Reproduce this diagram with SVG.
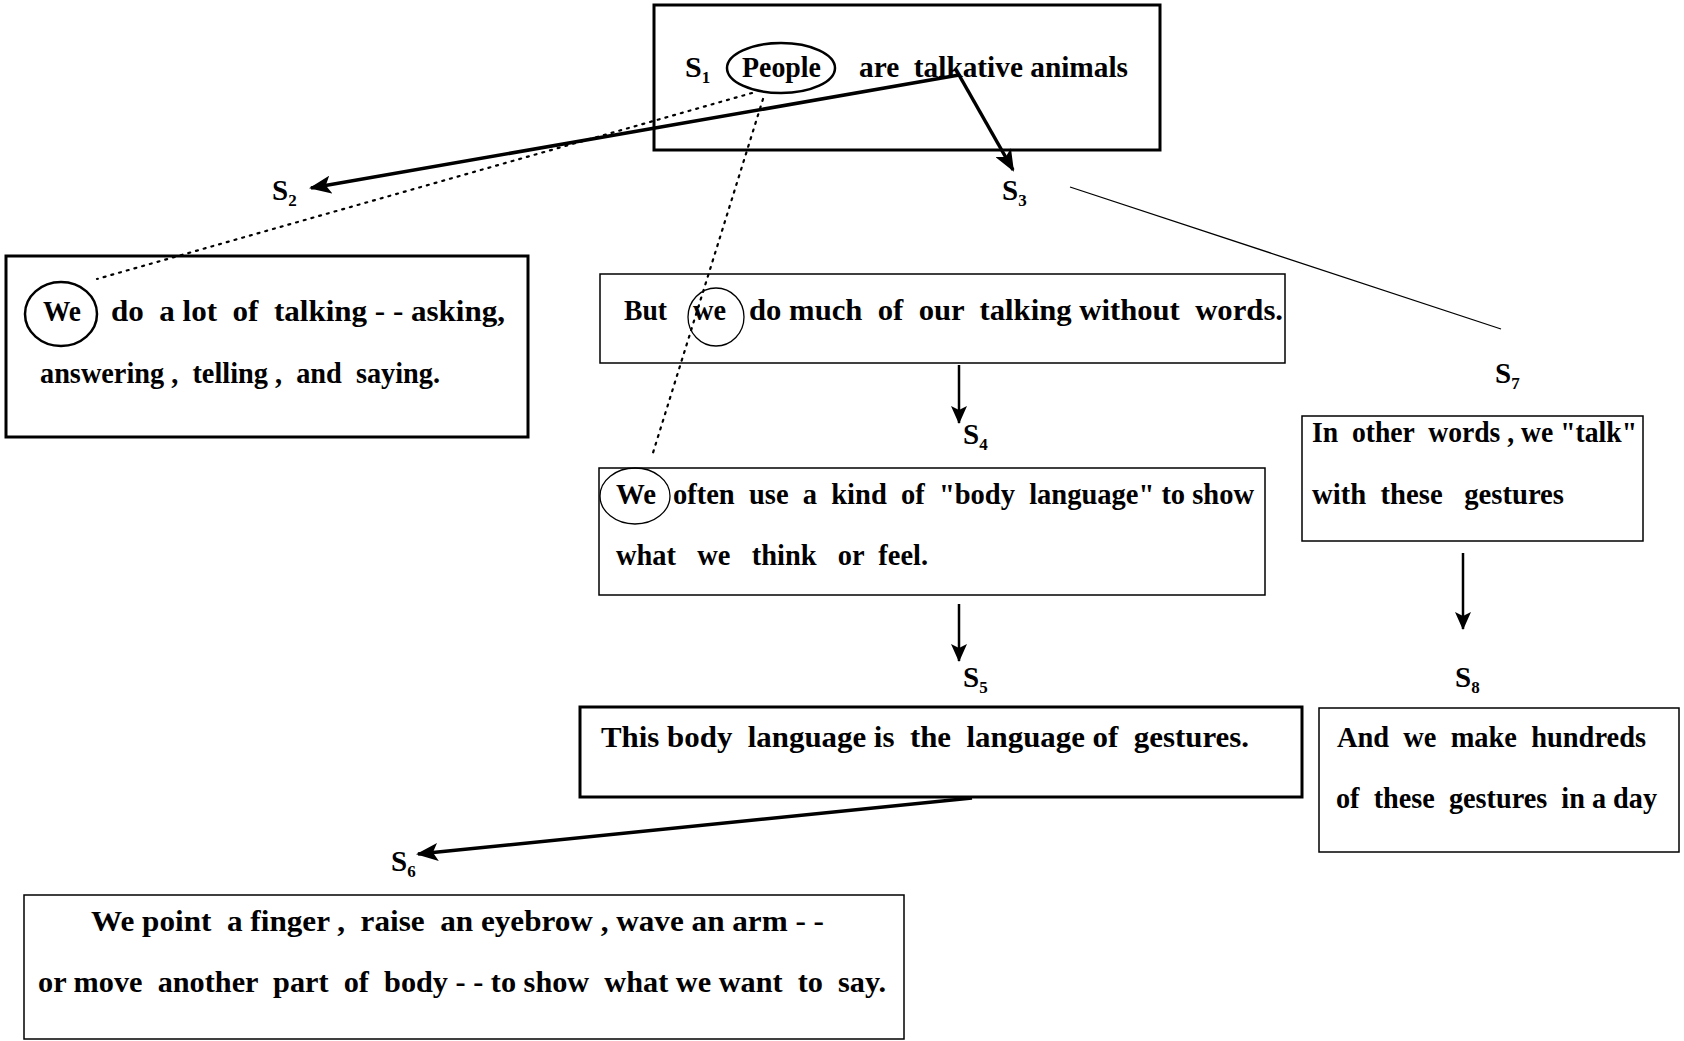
<svg xmlns="http://www.w3.org/2000/svg" width="1684" height="1041" viewBox="0 0 1684 1041">
<defs>
<style>
.t{font-family:"Liberation Serif","Times New Roman",serif;font-weight:bold;font-size:30px;fill:#000;white-space:pre}
.lab{font-family:"Liberation Serif","Times New Roman",serif;font-weight:bold;font-size:29px;fill:#000}
.sub{font-size:17px}
.box{fill:#fff;stroke:#000;stroke-width:1.5}
.boxb{fill:#fff;stroke:#000;stroke-width:3}
.ring{fill:none;stroke:#000;stroke-width:2.5}
.ringt{fill:none;stroke:#000;stroke-width:1.3}
.arr{fill:none;stroke:#000;stroke-width:3.5;marker-end:url(#ah)}
.arrt{fill:none;stroke:#000;stroke-width:2.5;marker-end:url(#ah2)}
.dot{fill:none;stroke:#000;stroke-width:2.2;stroke-dasharray:2 6;stroke-linecap:round}
.thin{fill:none;stroke:#000;stroke-width:1.3}
</style>
<marker id="ah" markerUnits="userSpaceOnUse" markerWidth="22" markerHeight="18" refX="20" refY="9" orient="auto">
<path d="M0,0 L22,9 L0,18 L5,9 Z" fill="#000"/>
</marker>
<marker id="ah2" markerUnits="userSpaceOnUse" markerWidth="18" markerHeight="16" refX="17" refY="8" orient="auto">
<path d="M0,0 L18,8 L0,16 L4,8 Z" fill="#000"/>
</marker>
</defs>

<g id="s1">
<rect class="boxb" x="654" y="5" width="506" height="145"/>
<text class="t" x="685" y="77">S<tspan class="sub" dy="6">1</tspan></text>
<ellipse class="ring" cx="781" cy="68" rx="54" ry="25"/>
<text class="t" x="742" y="77" textLength="79" lengthAdjust="spacingAndGlyphs">People</text>
<text class="t" x="859" y="77" textLength="269" lengthAdjust="spacingAndGlyphs">are  talkative animals</text>
</g>

<g id="s2">
<rect class="boxb" x="6" y="256" width="522" height="181"/>
<ellipse class="ring" cx="61" cy="314" rx="36" ry="32"/>
<text class="t" x="43" y="321" textLength="38" lengthAdjust="spacingAndGlyphs">We</text>
<text class="t" x="111" y="321" textLength="394" lengthAdjust="spacingAndGlyphs">do  a lot  of  talking - - asking,</text>
<text class="t" x="40" y="383" textLength="400" lengthAdjust="spacingAndGlyphs">answering ,  telling ,  and  saying.</text>
</g>

<g id="s3">
<rect class="box" x="600" y="274" width="685" height="89"/>
<text class="t" x="624" y="320" textLength="43" lengthAdjust="spacingAndGlyphs">But</text>
<text class="t" x="693" y="320" textLength="33" lengthAdjust="spacingAndGlyphs">we</text>
<text class="t" x="749" y="320" textLength="534" lengthAdjust="spacingAndGlyphs">do much  of  our  talking without  words.</text>
<ellipse class="ringt" cx="716" cy="317" rx="28" ry="29"/>
</g>

<g id="s4">
<rect class="box" x="599" y="468" width="666" height="127"/>
<ellipse class="ringt" cx="635" cy="496" rx="35" ry="28"/>
<text class="t" x="616" y="504" textLength="40" lengthAdjust="spacingAndGlyphs">We</text>
<text class="t" x="673" y="504" textLength="581" lengthAdjust="spacingAndGlyphs">often  use  a  kind  of  "body  language" to show</text>
<text class="t" x="616" y="565" textLength="312" lengthAdjust="spacingAndGlyphs">what   we   think   or  feel.</text>
</g>

<g id="s5">
<rect class="boxb" x="580" y="707" width="722" height="90"/>
<text class="t" x="601" y="747" textLength="648" lengthAdjust="spacingAndGlyphs">This body  language is  the  language of  gestures.</text>
</g>

<g id="s6">
<rect class="box" x="24" y="895" width="880" height="144"/>
<text class="t" x="91" y="931" textLength="733" lengthAdjust="spacingAndGlyphs">We point  a finger ,  raise  an eyebrow , wave an arm - -</text>
<text class="t" x="38" y="992" textLength="848" lengthAdjust="spacingAndGlyphs">or move  another  part  of  body - - to show  what we want  to  say.</text>
</g>

<g id="s7">
<rect class="box" x="1302" y="416" width="341" height="125"/>
<text class="t" x="1312" y="442" textLength="325" lengthAdjust="spacingAndGlyphs">In  other  words , we "talk"</text>
<text class="t" x="1312" y="504" textLength="252" lengthAdjust="spacingAndGlyphs">with  these   gestures</text>
</g>

<g id="s8">
<rect class="box" x="1319" y="708" width="360" height="144"/>
<text class="t" x="1337" y="747" textLength="309" lengthAdjust="spacingAndGlyphs">And  we  make  hundreds</text>
<text class="t" x="1336" y="808" textLength="321" lengthAdjust="spacingAndGlyphs">of  these  gestures  in a day</text>
</g>

<g id="labels">
<text class="lab" x="272" y="200">S<tspan class="sub" dy="6">2</tspan></text>
<text class="lab" x="1002" y="200">S<tspan class="sub" dy="6">3</tspan></text>
<text class="lab" x="963" y="444">S<tspan class="sub" dy="6">4</tspan></text>
<text class="lab" x="963" y="687">S<tspan class="sub" dy="6">5</tspan></text>
<text class="lab" x="391" y="871">S<tspan class="sub" dy="6">6</tspan></text>
<text class="lab" x="1495" y="383">S<tspan class="sub" dy="6">7</tspan></text>
<text class="lab" x="1455" y="687">S<tspan class="sub" dy="6">8</tspan></text>
</g>

<g id="connectors">
<line class="dot" x1="752" y1="93" x2="97" y2="279"/>
<line class="dot" x1="763" y1="99" x2="652" y2="456"/>
<line class="arr" x1="959" y1="75" x2="311" y2="188"/>
<line class="arr" x1="959" y1="75" x2="1013" y2="170"/>
<line class="thin" x1="1070" y1="187" x2="1501" y2="329"/>
<line class="arrt" x1="959" y1="365" x2="959" y2="423"/>
<line class="arrt" x1="959" y1="604" x2="959" y2="661"/>
<line class="arr" x1="972" y1="798" x2="418" y2="854"/>
<line class="arrt" x1="1463" y1="553" x2="1463" y2="629"/>
</g>
</svg>
